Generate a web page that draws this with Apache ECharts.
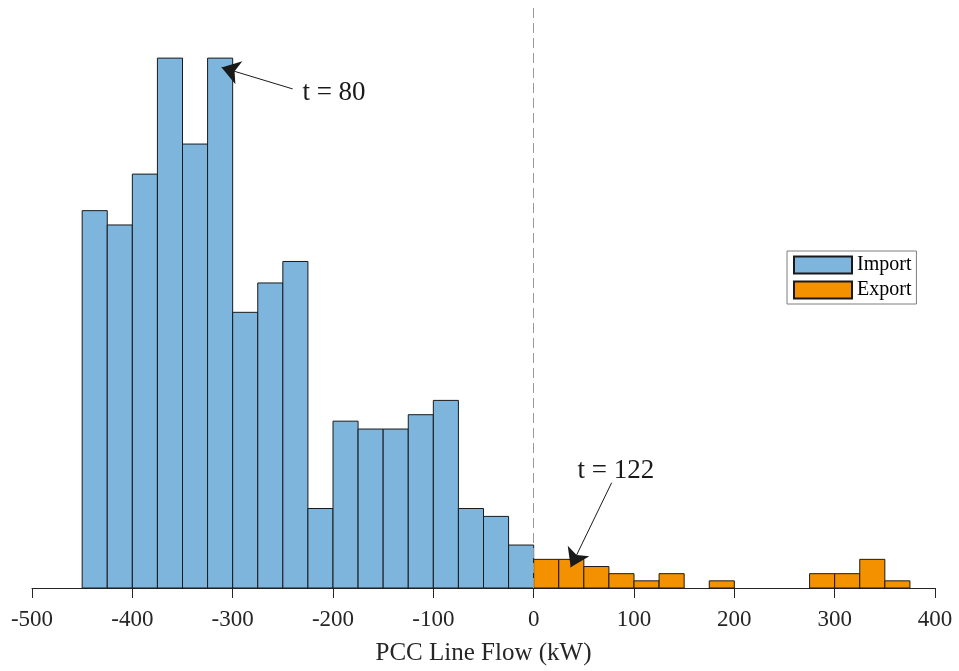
<!DOCTYPE html>
<html>
<head>
<meta charset="utf-8">
<script src="https://cdn.jsdelivr.net/npm/echarts@6/dist/echarts.min.js"></script>
<style>
  html, body { margin: 0; padding: 0; background: #fff; }
  #chart { width: 959px; height: 671px; }
</style>
</head>
<body>
<div id="chart"></div>
<script>
// histogram bins (left edges), bin width 25 kW
var binWidth = 25;
var importStarts = [-450, -425, -400, -375, -350, -325, -300, -275, -250, -225, -200, -175, -150, -125, -100, -75, -50, -25];
var importCounts = [52.7, 50.7, 57.8, 74, 62, 74, 38.5, 42.6, 45.6, 11.1, 23.3, 22.2, 22.2, 24.2, 26.2, 11.1, 10, 6];
var exportStarts = [0, 25, 50, 75, 100, 125, 150, 175, 200, 225, 250, 275, 300, 325, 350];
var exportCounts = [4, 4, 3, 2, 1, 2, 0, 1, 0, 0, 0, 2, 2, 4, 1];
var xTicks = [-500, -400, -300, -200, -100, 0, 100, 200, 300, 400];

var font = '"Liberation Serif", "Times New Roman", serif';
var axisColor = '#262626';
var importColor = '#7EB5DD';
var exportColor = '#F39100';
var edgeColor = '#1a1a1a';

function toBins(starts, counts) {
    return starts.map(function (s, i) { return [s, s + binWidth, counts[i]]; });
}

function histItem(fill) {
    return function (params, api) {
        if (!api.value(2)) return null;
        var p0 = api.coord([api.value(0), api.value(2)]);
        var p1 = api.coord([api.value(1), 0]);
        return {
            type: 'rect',
            shape: { x: p0[0], y: p0[1], width: p1[0] - p0[0], height: p1[1] - p0[1] },
            style: { fill: fill, stroke: edgeColor, lineWidth: 1 }
        };
    };
}

var chart = echarts.init(document.getElementById('chart'));
chart.setOption({
    animation: false,
    grid: { left: 32, right: 24, top: 8, bottom: 83, containLabel: false },
    legend: {
        data: ['Import', 'Export'],
        orient: 'vertical',
        left: 787,
        top: 251,
        icon: 'rect',
        itemWidth: 58,
        itemHeight: 17,
        itemGap: 5,
        padding: [4, 5, 4, 6],
        backgroundColor: '#fff',
        borderColor: '#7f7f7f',
        borderWidth: 1,
        borderRadius: 0,
        textStyle: { fontFamily: font, fontSize: 20, color: '#000', lineHeight: 20 }
    },
    xAxis: {
        type: 'value',
        min: -500,
        max: 400,
        interval: 100,
        name: 'PCC Line Flow (kW)',
        nameLocation: 'middle',
        nameGap: 53,
        nameTextStyle: { fontFamily: font, fontSize: 25, color: axisColor },
        axisLine: { show: true, onZero: false, lineStyle: { color: axisColor, width: 1 } },
        axisTick: { show: true, length: 10, lineStyle: { color: axisColor } },
        axisLabel: {
            fontFamily: font, fontSize: 23, color: axisColor, margin: 20,
            formatter: function (v) { return xTicks.indexOf(v) >= 0 ? String(v) : ''; }
        },
        splitLine: { show: false }
    },
    yAxis: {
        type: 'value',
        min: 0,
        max: 81,
        show: false,
        splitLine: { show: false }
    },
    series: [
        {
            name: 'Import',
            type: 'custom',
            renderItem: histItem(importColor),
            itemStyle: { color: importColor, borderColor: edgeColor, borderWidth: 1 },
            encode: { x: [0, 1], y: 2 },
            data: toBins(importStarts, importCounts),
            z: 2
        },
        {
            name: 'Export',
            type: 'custom',
            renderItem: histItem(exportColor),
            itemStyle: { color: exportColor, borderColor: edgeColor, borderWidth: 1 },
            encode: { x: [0, 1], y: 2 },
            data: toBins(exportStarts, exportCounts),
            z: 2
        },
        {
            // annotations: zero line, arrows and labels
            name: 'notes',
            type: 'line',
            data: [],
            z: 5,
            markLine: {
                silent: true,
                animation: false,
                symbol: ['none', 'none'],
                data: [
                    {
                        xAxis: 0,
                        lineStyle: { color: '#9a9a9a', type: [10, 5], width: 1 },
                        label: { show: false }
                    },
                    [
                        { coord: [-240.2, 69.7], symbol: 'none' },
                        { coord: [-311, 72.7], symbol: 'arrow', symbolSize: 18 }
                    ],
                    [
                        { coord: [77.7, 14.7], symbol: 'none' },
                        { coord: [36.9, 2.9], symbol: 'arrow', symbolSize: 18 }
                    ]
                ],
                lineStyle: { color: '#1a1a1a', type: 'solid', width: 1 },
                itemStyle: { color: '#000' },
                label: { show: false }
            },
            markPoint: {
                silent: true,
                animation: false,
                symbol: 'circle',
                symbolSize: 1,
                itemStyle: { color: 'rgba(0,0,0,0)' },
                label: { show: true, position: 'inside', fontFamily: font, fontSize: 27, color: '#1a1a1a' },
                data: [
                    { coord: [-199, 69.2], label: { formatter: 't = 80' } },
                    { coord: [82, 16.3], label: { formatter: 't = 122' } }
                ]
            }
        }
    ]
});
</script>
</body>
</html>
